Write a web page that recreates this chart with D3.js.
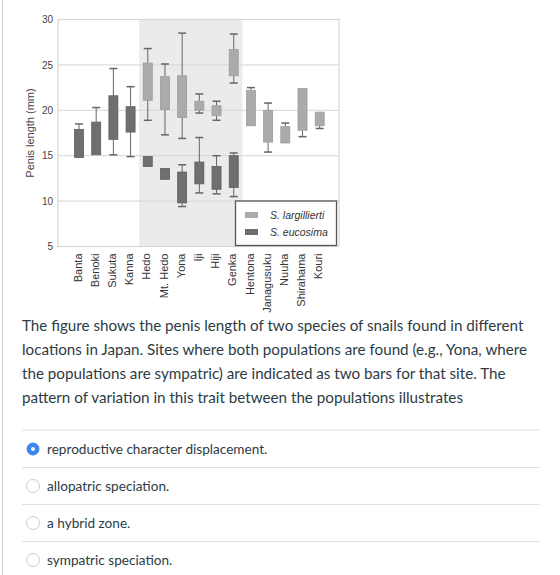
<!DOCTYPE html>
<html><head><meta charset="utf-8">
<script src="https://cdn.jsdelivr.net/npm/d3@7"></script>
<style>html,body{margin:0;padding:0;background:#fff;}svg{display:block;}</style>
</head><body>
<svg id="c" width="560" height="575"></svg>
<script>
// ---- data ----
const sites = ["Banta","Benoki","Sukuta","Kanna","Hedo","Mt. Hedo","Yona","Iji","Hiji","Genka","Hentona","Janagusuku","Nuuha","Shirahama","Kouri"];
const sympatricSites = ["Hedo","Mt. Hedo","Yona","Iji","Hiji","Genka"];
// [min, q1, q3, max] ; null = not present
const largillierti = [null,null,null,null,
  [18.9,21.1,25.2,26.8],[17.3,20.1,23.7,25.1],[16.9,19.2,23.8,28.5],[19.7,20.0,21.0,21.8],[18.9,19.4,20.5,21.0],[23.0,23.8,26.7,28.4],
  [18.3,18.3,22.2,22.5],[15.4,16.5,20.0,20.8],[16.4,16.4,18.2,18.6],[17.1,17.8,22.4,22.4],[18.0,18.3,19.8,19.8]];
const eucosima = [[14.8,14.8,17.9,18.5],[15.1,15.1,18.7,20.3],[15.1,16.8,21.6,24.6],[14.9,17.6,20.4,22.6],
  [13.8,13.8,14.9,14.9],[12.4,12.4,13.6,13.6],[9.4,9.8,13.2,14.0],[10.9,11.9,14.3,17.0],[10.8,11.3,13.8,15.0],[10.5,11.5,15.0,15.3],
  null,null,null,null,null];
const yTicks = [5,10,15,20,25,30];
const seriesNames = ["S. largillierti","S. eucosima"];
const yTitle = "Penis length (mm)";
const question = ["The figure shows the penis length of two species of snails found in different",
  "locations in Japan. Sites where both populations are found (e.g., Yona, where",
  "the populations are sympatric) are indicated as two bars for that site. The",
  "pattern of variation in this trait between the populations illustrates"];
const answers = ["reproductive character displacement.","allopatric speciation.","a hybrid zone.","sympatric speciation."];
const selected = 0;

// ---- drawing ----
const svg = d3.select("#c");
const colors = {light:"#ababab", lightStroke:"#9c9c9c", dark:"#6f6f6f", darkStroke:"#5e5e5e", whisker:"#666"};
const plot = {left:58, right:339, top:19.5, bottom:246.5};
const x = d3.scalePoint().domain(sites).range([79, 319.7]);
const y = d3.scaleLinear().domain([5,30]).range([plot.bottom, plot.top]);
const chartFont = "'Liberation Sans', Arial, Helvetica, sans-serif";

// page border
svg.append("line").attr("x1",2.5).attr("x2",2.5).attr("y1",0).attr("y2",575).attr("stroke","#cfcfcf");

// sympatric shading
const step = x.step();
const sx0 = x(sympatricSites[0]) - step/2, sx1 = x(sympatricSites[sympatricSites.length-1]) + step/2;
svg.append("rect").attr("x",sx0).attr("y",plot.top).attr("width",sx1-sx0).attr("height",plot.bottom-plot.top).attr("fill","#ebebeb");

// gridlines
svg.append("g").selectAll("line").data(yTicks.slice(1,-1)).join("line")
  .attr("x1",plot.left).attr("x2",plot.right).attr("y1",d=>y(d)).attr("y2",d=>y(d))
  .attr("stroke","#d6d6d6").attr("stroke-width",1);
// frame
svg.append("rect").attr("x",plot.left).attr("y",plot.top).attr("width",plot.right-plot.left).attr("height",plot.bottom-plot.top)
  .attr("fill","none").attr("stroke","#d6d6d6").attr("stroke-width",1.2);

// y axis
const yAxis = d3.axisLeft(y).tickValues(yTicks).tickSize(0).tickPadding(5);
const ga = svg.append("g").attr("transform",`translate(${plot.left},0)`).call(yAxis);
ga.select(".domain").remove();
ga.selectAll("text").attr("font-family",chartFont).attr("font-size",10).attr("fill","#444");

svg.append("text").attr("transform",`translate(34,${(plot.top+plot.bottom)/2}) rotate(-90)`)
  .attr("text-anchor","middle").attr("font-family",chartFont).attr("font-size",11).attr("fill","#444").text(yTitle);

// x axis labels
const xAxis = d3.axisBottom(x).tickSize(0).tickPadding(0);
const gx = svg.append("g").attr("transform",`translate(0,${plot.bottom})`).call(xAxis);
gx.select(".domain").remove();
gx.selectAll("text").attr("font-family",chartFont).attr("font-size",11).attr("fill","#333")
  .attr("text-anchor","end").attr("transform","rotate(-90)").attr("x",-7).attr("y",0).attr("dy","0.2em");

// boxes
const bw = 9, cw = 8;
function drawSeries(data, fill, stroke){
  const items = data.map((d,i)=>d?{site:sites[i],v:d}:null).filter(Boolean);
  const g = svg.append("g");
  items.forEach(it=>{
    const cx = x(it.site), [mn,q1,q3,mx] = it.v;
    if (mx > q3 + 0.05){
      g.append("line").attr("x1",cx).attr("x2",cx).attr("y1",y(mx)).attr("y2",y(q3)).attr("stroke",colors.whisker);
      g.append("line").attr("x1",cx-cw/2).attr("x2",cx+cw/2).attr("y1",y(mx)).attr("y2",y(mx)).attr("stroke",colors.whisker).attr("stroke-width",1.5);
    }
    if (mn < q1 - 0.05){
      g.append("line").attr("x1",cx).attr("x2",cx).attr("y1",y(q1)).attr("y2",y(mn)).attr("stroke",colors.whisker);
      g.append("line").attr("x1",cx-cw/2).attr("x2",cx+cw/2).attr("y1",y(mn)).attr("y2",y(mn)).attr("stroke",colors.whisker).attr("stroke-width",1.5);
    }
    g.append("rect").attr("x",cx-bw/2).attr("y",y(q3)).attr("width",bw).attr("height",y(q1)-y(q3))
      .attr("fill",fill).attr("stroke",stroke).attr("stroke-width",0.8);
  });
}
drawSeries(largillierti, colors.light, colors.lightStroke);
drawSeries(eucosima, colors.dark, colors.darkStroke);

// legend
const lg = svg.append("g");
lg.append("rect").attr("x",235.5).attr("y",201).attr("width",101).attr("height",44.5)
  .attr("fill","#fff").attr("stroke","#555").attr("stroke-width",1.3);
const legCols = [colors.light, colors.dark];
seriesNames.forEach((n,i)=>{
  lg.append("rect").attr("x",245).attr("y",212+i*17).attr("width",13).attr("height",6).attr("fill",legCols[i]);
  lg.append("text").attr("x",270).attr("y",215+i*17).attr("dy","0.35em").attr("font-family",chartFont)
    .attr("font-style","italic").attr("font-size",10.5).attr("fill","#333").text(n);
});

// question text
const qFont = "Lato, 'Open Sans', sans-serif";
svg.append("g").selectAll("text").data(question).join("text")
  .attr("x",22).attr("y",(d,i)=>331+i*24).attr("font-family",qFont).attr("font-size",15.2).attr("fill","#2d3b45").text(d=>d);

// answers
const rules = [430, 467.5, 504.5, 541.5];
svg.append("g").selectAll("line").data(rules).join("line")
  .attr("x1",22).attr("x2",540).attr("y1",d=>d).attr("y2",d=>d).attr("stroke","#dfe2e4").attr("stroke-width",1);
const ag = svg.append("g").selectAll("g").data(answers).join("g")
  .attr("transform",(d,i)=>`translate(0,${449+i*37})`);
ag.append("circle").attr("cx",33).attr("cy",0).attr("r",(d,i)=>i===selected?6:6.5)
  .attr("fill",(d,i)=>i===selected?"#3a86f0":"#fff").attr("stroke",(d,i)=>i===selected?"#3a86f0":"#c9cdd1").attr("stroke-width",1);
ag.filter((d,i)=>i===selected).append("circle").attr("cx",33).attr("cy",0).attr("r",2).attr("fill","#fff");
ag.append("text").attr("x",47).attr("y",0).attr("dy","0.35em").attr("font-family",qFont).attr("font-size",13.6).attr("fill","#2d3b45").text(d=>d);
</script>
</body></html>
